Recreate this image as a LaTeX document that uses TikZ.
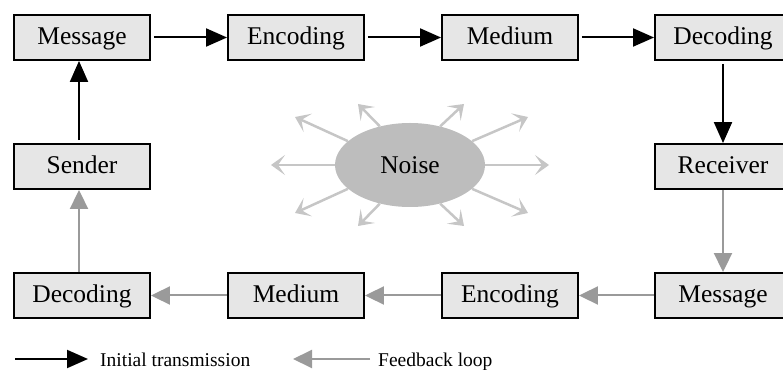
\documentclass[tikz,border=0pt]{standalone}
\usepackage{fontspec}
\setmainfont{Liberation Serif}
\usetikzlibrary{arrows.meta,shapes.geometric}

\definecolor{boxgray}{HTML}{E6E6E6}
\definecolor{loopgray}{HTML}{9A9A9A}
\definecolor{noisegray}{HTML}{BDBDBD}
\definecolor{raygray}{HTML}{C6C6C6}

\begin{document}
\begin{tikzpicture}[x=1pt, y=1pt,
    block/.style={rectangle, draw=black, line width=1.9pt, fill=boxgray,
        minimum width=136pt, minimum height=45pt, inner sep=0pt,
        text height=17pt, text depth=2pt,
        font=\fontsize{25.5}{28}\selectfont},
    initial/.style={line width=2pt, -{Triangle[length=21pt,width=18pt]},
        shorten <=3pt},
    feedback/.style={loopgray, line width=2pt,
        -{Triangle[length=19pt,width=18pt]}},
    noisecloud/.style={ellipse, fill=noisegray, minimum width=150pt,
        minimum height=84pt, inner sep=0pt, font=\fontsize{25.5}{28}\selectfont},
    noiseray/.style={raygray, line width=2.5pt,
        -{Stealth[length=14pt,width=20pt,inset=7pt]}},
    legend/.style={anchor=base west, inner sep=0pt, font=\fontsize{19.5}{22}\selectfont}
]
    \useasboundingbox (0,0) rectangle (783,369);

    % top row
    \node[block] (msg1) at (82,331.5) {Message};
    \node[block] (enc1) at (296,331.5) {Encoding};
    \node[block] (med1) at (510,331.5) {Medium};
    \node[block] (dec1) at (723,331.5) {Decoding};
    % middle row
    \node[block] (sender) at (82,202.5) {Sender};
    \node[block] (receiver) at (723,202.5) {Receiver};
    % bottom row
    \node[block] (dec2) at (82,73.5) {Decoding};
    \node[block] (med2) at (296,73.5) {Medium};
    \node[block] (enc2) at (510,73.5) {Encoding};
    \node[block] (msg2) at (723,73.5) {Message};

    % initial transmission
    \draw[initial] (sender.north -| 79,0) -- (msg1.south -| 79,0);
    \draw[initial] (msg1) -- (enc1);
    \draw[initial] (enc1) -- (med1);
    \draw[initial] (med1) -- (dec1);
    \draw[initial] (dec1) -- (receiver);

    % feedback loop
    \draw[feedback] (receiver) -- (msg2);
    \draw[feedback] (msg2) -- (enc2);
    \draw[feedback] (enc2) -- (med2);
    \draw[feedback] (med2) -- (dec2);
    \draw[feedback] (dec2.north -| 79,0) -- (sender.south -| 79,0);

    % noise
    \node[noisecloud] (noise) at (410,204) {Noise};
    \coordinate (r1) at (549,204);
    \coordinate (r2) at (528,252);
    \coordinate (r3) at (464,265);
    \coordinate (r4) at (358,265);
    \coordinate (r5) at (295,252);
    \coordinate (r6) at (271,204);
    \coordinate (r7) at (295,156);
    \coordinate (r8) at (358,143);
    \coordinate (r9) at (464,143);
    \coordinate (r10) at (528,156);
    \draw[noiseray] (noise.0) -- (r1);
    \draw[noiseray] (noise.21) -- (r2);
    \draw[noiseray] (noise.52) -- (r3);
    \draw[noiseray] (noise.128) -- (r4);
    \draw[noiseray] (noise.159) -- (r5);
    \draw[noiseray] (noise.180) -- (r6);
    \draw[noiseray] (noise.201) -- (r7);
    \draw[noiseray] (noise.232) -- (r8);
    \draw[noiseray] (noise.308) -- (r9);
    \draw[noiseray] (noise.339) -- (r10);

    % legend
    \coordinate (li0) at (15,10);
    \coordinate (li1) at (88,10);
    \coordinate (lf0) at (370,10);
    \coordinate (lf1) at (293,10);
    \draw[line width=2pt, -{Triangle[length=21pt,width=18pt]}] (li0) -- (li1);
    \node[legend] (initlabel) at (100,3) {Initial transmission};
    \draw[feedback] (lf0) -- (lf1);
    \node[legend] (feedlabel) at (378,3) {Feedback loop};
\end{tikzpicture}
\end{document}
